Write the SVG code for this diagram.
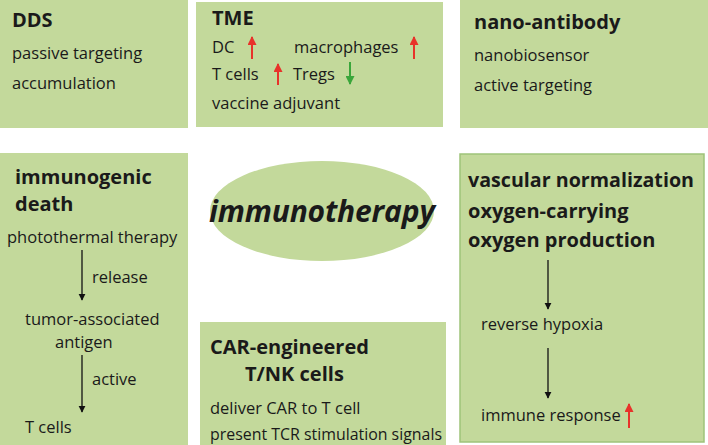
<svg xmlns="http://www.w3.org/2000/svg" width="708" height="445" viewBox="0 0 708 445">
<style>
.box{fill:#c3d99b}
text{font-family:"Open Sans","Liberation Sans",sans-serif;fill:#1a1a1a}
.t{font-size:16.5px}
.h{font-size:20px;font-weight:bold}
.c{stroke:#111;stroke-width:1.3;fill:none}
.up{stroke:#e8322a;stroke-width:2}
</style>
<defs>
<marker id="a" viewBox="0 0 10 10" refX="9" refY="5" markerWidth="7" markerHeight="9" orient="auto" markerUnits="userSpaceOnUse"><path d="M0,0L10,5L0,10z" fill="#111"/></marker>
<marker id="r" viewBox="0 0 10 10" refX="9" refY="5" markerWidth="10" markerHeight="9" orient="auto" markerUnits="userSpaceOnUse"><path d="M0,0L10,5L0,10z" fill="#e8322a"/></marker>
<marker id="g" viewBox="0 0 10 10" refX="9" refY="5" markerWidth="10" markerHeight="9" orient="auto" markerUnits="userSpaceOnUse"><path d="M0,0L10,5L0,10z" fill="#3aa63a"/></marker>
</defs>
<rect width="708" height="445" fill="#fff"/>
<g id="dds"><rect class="box" x="0" y="0" width="188" height="128"/>
<text class="h" x="12" y="27">DDS</text><text class="t" x="12" y="59">passive targeting</text><text class="t" x="12" y="89">accumulation</text></g>
<g id="tme"><rect class="box" x="196" y="2" width="247" height="125"/>
<text class="h" x="212" y="25">TME</text>
<text class="t" x="212" y="53">DC</text><text class="t" x="294" y="53">macrophages</text>
<text class="t" x="212" y="80">T cells</text><text class="t" x="293" y="80">Tregs</text>
<text class="t" x="212" y="109">vaccine adjuvant</text>
<path class="up" d="M252,59V37" marker-end="url(#r)"/>
<path class="up" d="M414,59V37" marker-end="url(#r)"/>
<path class="up" d="M278,85V64" marker-end="url(#r)"/>
<path d="M350,62V84" stroke="#3aa63a" stroke-width="2" marker-end="url(#g)"/></g>
<g id="nano"><rect class="box" x="460" y="0" width="248" height="128"/>
<text class="h" x="474" y="29">nano-antibody</text><text class="t" x="474" y="61">nanobiosensor</text><text class="t" x="474" y="91">active targeting</text></g>
<g id="icd"><rect class="box" x="0" y="153" width="188" height="292"/>
<text class="h" x="15" y="184">immunogenic</text><text class="h" x="15" y="211">death</text>
<text class="t" x="7" y="243">photothermal therapy</text>
<text class="t" x="92" y="283">release</text>
<text class="t" x="25" y="325">tumor-associated</text><text class="t" x="55" y="348">antigen</text>
<text class="t" x="92" y="385">active</text>
<text class="t" x="25" y="433">T cells</text></g>
<g id="center"><ellipse cx="322" cy="211" rx="112" ry="50" fill="#c3d99b"/>
<text x="322" y="222" text-anchor="middle" textLength="226" style="font-size:30px;font-weight:bold;font-style:italic">immunotherapy</text></g>
<g id="car"><rect class="box" x="200" y="322" width="246" height="123"/>
<text class="h" x="210" y="354">CAR-engineered</text><text class="h" x="245" y="381">T/NK cells</text>
<text class="t" x="210" y="414">deliver CAR to T cell</text><text class="t" x="210" y="440" textLength="232" lengthAdjust="spacingAndGlyphs">present TCR stimulation signals</text></g>
<g id="vasc"><rect class="box" x="460" y="154" width="244" height="288" stroke="#9ec37a" stroke-width="1.5"/>
<text class="h" x="468" y="187" textLength="226" lengthAdjust="spacingAndGlyphs">vascular normalization</text><text class="h" x="468" y="218">oxygen-carrying</text><text class="h" x="468" y="247">oxygen production</text>
<text class="t" x="481" y="330">reverse hypoxia</text>
<text class="t" x="481" y="421">immune response</text>
<path class="up" d="M629,428V404" marker-end="url(#r)"/></g>
<g id="connectors">
<path class="c" d="M82,250V300" marker-end="url(#a)"/>
<path class="c" d="M82,355V412" marker-end="url(#a)"/>
<path class="c" d="M548,260V309" marker-end="url(#a)"/>
<path class="c" d="M548,348V398" marker-end="url(#a)"/>
</g>
</svg>
